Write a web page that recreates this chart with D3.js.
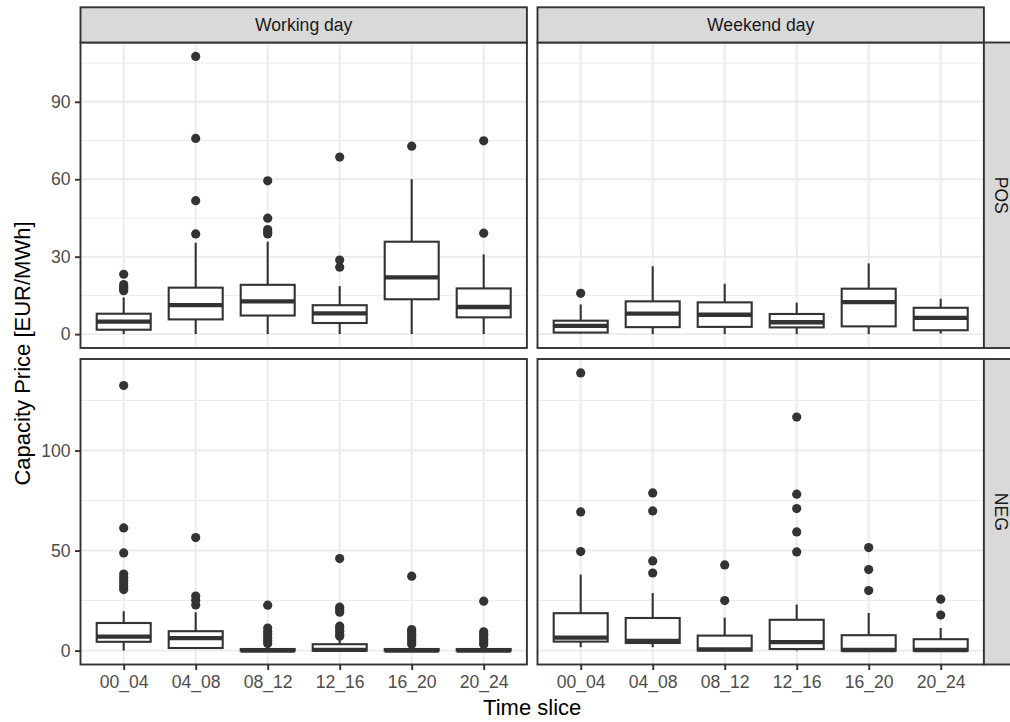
<!DOCTYPE html>
<html><head><meta charset="utf-8">
<script src="https://cdn.jsdelivr.net/npm/d3@7"></script>
<style>body{margin:0;background:#fff} svg{display:block}</style>
</head><body><svg id="chart" width="1010" height="722"></svg>
<script>
const slices = ["00_04","04_08","08_12","12_16","16_20","20_24"];
const dayTypes = ["Working day","Weekend day"];
const directions = ["POS","NEG"];
// five-number stats per slice: [lower whisker, Q1, median, Q3, upper whisker]
const workingPOS = [[0,1.7,4.8,7.9,14.2],[0,5.7,11.2,18.0,35.4],[0,7.2,12.7,19.1,35.8],[0,4.3,8.0,11.2,18.6],[0,13.5,22.0,35.8,60.0],[0,6.5,10.5,17.7,30.9]];
const workingPOSOut = [[16.8,17.5,18.3,19.2,23.2],[38.8,51.7,75.8,107.6],[38.8,39.6,40.5,44.9,59.4],[25.9,28.7,68.6],[72.8],[39.1,74.9]];
const weekendPOS = [[0.2,0.6,3.2,5.2,11.5],[0,2.7,7.9,12.7,26.3],[0,2.8,7.5,12.3,19.5],[0,2.6,4.6,7.8,12.2],[0,3.0,12.4,17.6,27.4],[0.2,1.5,6.3,10.2,13.7]];
const weekendPOSOut = [[15.8],[],[],[],[],[]];
const workingNEG = [[0,4.4,7.0,13.8,19.7],[0.8,1.3,6.2,9.7,19.2],[0,0,0,0.8,2.0],[0,0,0.4,3.2,6.0],[0,0,0,0.8,2.0],[0,0,0,0.8,2.0]];
const workingNEGOut = [[30.5,32,33.5,35,36.5,38.3,48.8,61.3,132.5],[22.8,25.2,27.3,56.5],[3.5,5,6.5,8,9.5,11.3,22.7],[7.2,8.2,9.7,11,12.2,19.2,20.5,21.7,46],[3.2,4.5,5.8,7,8.2,9.5,10.5,37.2],[3,4.3,5.6,7,8.2,9.4,24.7]];
const weekendNEG = [[1.7,4.5,6.5,18.7,38],[1.7,3.8,4.9,16.3,28.8],[0,0,0.6,7.5,16.5],[0,0.8,4.2,15.4,23],[0,0,0.3,7.7,18.8],[0,0,0.3,5.7,11.3]];
const weekendNEGOut = [[49.5,69.3,138.8],[38.8,44.8,69.8,78.8],[25,42.8],[49.3,59.3,71,78.2,116.7],[30,40.5,51.5],[17.8,25.7]];
const posTicks = [0,30,60,90];
const posMinor = [15,45,75,105];
const negTicks = [0,50,100];
const negMinor = [25,75,125];
const xTitle = "Time slice";
const yTitle = "Capacity Price [EUR/MWh]";

const svg = d3.select("#chart");
const font = "'Liberation Sans', Arial, Helvetica, sans-serif";
const ink = "#333333", grid = "#EBEBEB";
const colX = [80.5, 537.5], panelW = 446.4;
const rowY = [42.5, 359], panelH = 305.5;
const stripTop = 7.3, stripW = 35;

svg.append("rect").attr("width",1010).attr("height",722).attr("fill","#fff");

const rows = [
  {dir: directions[0], stats:[workingPOS, weekendPOS], outs:[workingPOSOut, weekendPOSOut], ticks: posTicks, minor: posMinor},
  {dir: directions[1], stats:[workingNEG, weekendNEG], outs:[workingNEGOut, weekendNEGOut], ticks: negTicks, minor: negMinor}
];

rows.forEach((row, ri) => {
  const all = row.stats.flat(2).concat(row.outs.flat(2));
  const lo = d3.min(all), hi = d3.max(all), pad = (hi - lo) * 0.05;
  const y = d3.scaleLinear().domain([lo - pad, hi + pad]).range([rowY[ri] + panelH, rowY[ri]]);
  dayTypes.forEach((day, ci) => {
    const x = d3.scalePoint().domain(slices).range([colX[ci], colX[ci] + panelW]).padding(0.6);
    const g = svg.append("g");
    g.append("rect").attr("x", colX[ci]).attr("y", rowY[ri]).attr("width", panelW).attr("height", panelH).attr("fill", "#fff");
    g.selectAll(".minor").data(row.minor).join("line")
      .attr("x1", colX[ci]).attr("x2", colX[ci] + panelW)
      .attr("y1", d => y(d)).attr("y2", d => y(d))
      .attr("stroke", grid).attr("stroke-width", 1.0);
    g.selectAll(".major").data(row.ticks).join("line")
      .attr("x1", colX[ci]).attr("x2", colX[ci] + panelW)
      .attr("y1", d => y(d)).attr("y2", d => y(d))
      .attr("stroke", grid).attr("stroke-width", 1.9);
    g.selectAll(".vmajor").data(slices).join("line")
      .attr("x1", d => x(d)).attr("x2", d => x(d))
      .attr("y1", rowY[ri]).attr("y2", rowY[ri] + panelH)
      .attr("stroke", grid).attr("stroke-width", 1.9);

    const bw = x.step() * 0.75;
    const stats = row.stats[ci];
    slices.forEach((s, i) => {
      const [wl, q1, med, q3, wh] = stats[i];
      const cx = x(s);
      g.append("line").attr("x1", cx).attr("x2", cx).attr("y1", y(q3)).attr("y2", y(wh)).attr("stroke", ink).attr("stroke-width", 2.1);
      g.append("line").attr("x1", cx).attr("x2", cx).attr("y1", y(q1)).attr("y2", y(wl)).attr("stroke", ink).attr("stroke-width", 2.1);
      g.append("rect").attr("x", cx - bw / 2).attr("y", y(q3)).attr("width", bw).attr("height", Math.max(0, y(q1) - y(q3)))
        .attr("fill", "#fff").attr("stroke", ink).attr("stroke-width", 2.1);
      g.append("line").attr("x1", cx - bw / 2).attr("x2", cx + bw / 2).attr("y1", y(med)).attr("y2", y(med)).attr("stroke", ink).attr("stroke-width", 4.3);
      g.selectAll(null).data(row.outs[ci][i]).join("circle")
        .attr("cx", cx).attr("cy", d => y(d)).attr("r", 4.6).attr("fill", ink);
    });

    g.append("rect").attr("x", colX[ci]).attr("y", rowY[ri]).attr("width", panelW).attr("height", panelH)
      .attr("fill", "none").attr("stroke", ink).attr("stroke-width", 1.9);

    if (ci === 0) {
      const ax = svg.append("g").attr("transform", `translate(${colX[0]},0)`)
        .call(d3.axisLeft(y).tickValues(row.ticks).tickSize(5.5).tickPadding(4.4));
      ax.select(".domain").remove();
      ax.selectAll("line").attr("stroke", ink).attr("stroke-width", 1.9);
      ax.selectAll("text").attr("fill", "#4D4D4D").attr("font-size", 17.6).attr("font-family", font);
    }
    if (ri === 1) {
      const ax = svg.append("g").attr("transform", `translate(0,${rowY[1] + panelH})`)
        .call(d3.axisBottom(x).tickSize(5.5).tickPadding(6));
      ax.select(".domain").remove();
      ax.selectAll("line").attr("stroke", ink).attr("stroke-width", 1.9);
      ax.selectAll("text").attr("fill", "#4D4D4D").attr("font-size", 17.6).attr("font-family", font);
    }
    if (ri === 0) {
      svg.append("rect").attr("x", colX[ci]).attr("y", stripTop).attr("width", panelW).attr("height", rowY[0] - stripTop)
        .attr("fill", "#D9D9D9").attr("stroke", ink).attr("stroke-width", 1.9);
      svg.append("text").attr("x", colX[ci] + panelW / 2).attr("y", (stripTop + rowY[0]) / 2).attr("dy", "0.35em")
        .attr("text-anchor", "middle").attr("font-family", font).attr("font-size", 17.6).attr("fill", "#1A1A1A").text(day);
    }
  });
  const sx = colX[1] + panelW;
  svg.append("rect").attr("x", sx).attr("y", rowY[ri]).attr("width", stripW).attr("height", panelH)
    .attr("fill", "#D9D9D9").attr("stroke", ink).attr("stroke-width", 1.9);
  svg.append("text").attr("transform", `translate(${sx + stripW / 2},${rowY[ri] + panelH / 2}) rotate(90)`)
    .attr("dy", "0.35em").attr("text-anchor", "middle").attr("font-family", font).attr("font-size", 17.6).attr("fill", "#1A1A1A").text(row.dir);
});

svg.append("text").attr("x", (colX[0] + colX[1] + panelW) / 2).attr("y", 714.5).attr("text-anchor", "middle")
  .attr("font-family", font).attr("font-size", 22).attr("fill", "#000").text(xTitle);
svg.append("text").attr("transform", `translate(29.6,${(rowY[0] + rowY[1] + panelH) / 2}) rotate(-90)`).attr("text-anchor", "middle")
  .attr("font-family", font).attr("font-size", 22).attr("fill", "#000").text(yTitle);
</script></body></html>
